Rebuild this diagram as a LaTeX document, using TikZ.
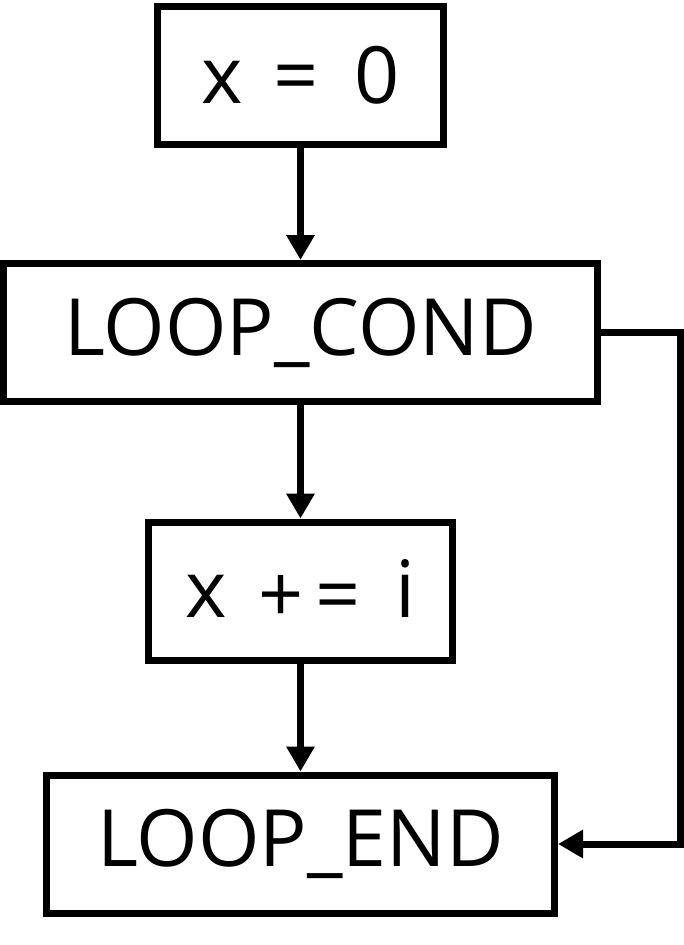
\documentclass[tikz,border=0pt]{standalone}
\usepackage{fontspec}
\setmainfont{Open Sans}
\usetikzlibrary{arrows.meta}
\begin{document}
\begin{tikzpicture}[x=1pt,y=-1pt,
  box/.style={draw=black,line width=7pt,rectangle,inner sep=0pt,minimum height=138pt,font=\fontsize{79}{86}\selectfont},
  conn/.style={line width=7pt,-{Triangle[length=25pt,width=27pt]}}]
\useasboundingbox (0,0) rectangle (684,945);
\node[box,minimum width=286pt] (b1) at (300.5,75.5) {x\hspace{0.4em}=\hspace{0.45em}0};
\node[box,minimum width=594pt] (b2) at (300.5,332.5) {LOOP\_COND};
\node[box,minimum width=304pt] (b3) at (300.5,591) {x\hspace{0.4em}\raisebox{-5pt}{+\hspace{0.15em}=}\hspace{0.45em}i};
\node[box,minimum width=508pt] (b4) at (300.5,844) {LOOP\_END};
\coordinate (r1) at (680,332.5);
\coordinate (r2) at (680,844);
\draw[conn] (b1.south) -- (b2.north);
\draw[conn] (b2.south) -- (b3.north);
\draw[conn] (b3.south) -- (b4.north);
\draw[conn] (b2.east) -- (r1) -- (r2) -- (b4.east);
\end{tikzpicture}
\end{document}
